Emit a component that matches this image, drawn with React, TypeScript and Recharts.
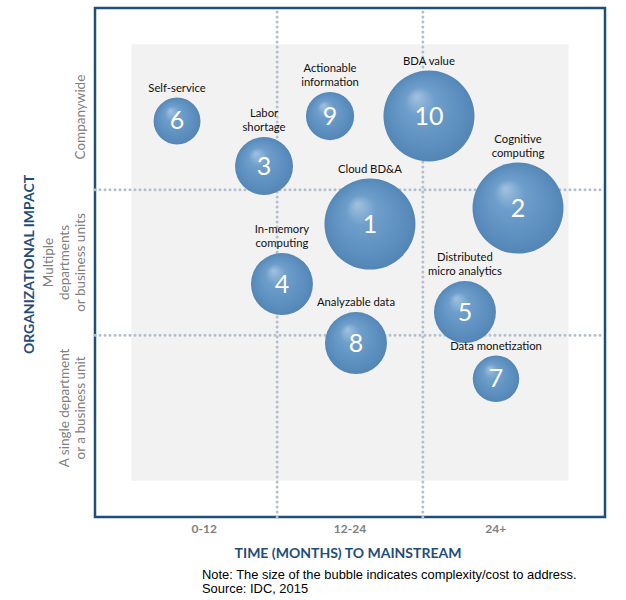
import React from "react"
import {
  ScatterChart,
  Scatter,
  XAxis,
  YAxis,
  ZAxis,
  ReferenceArea,
  ReferenceLine,
  Label,
} from "recharts"

// bubble number, name, time bucket position, impact position, complexity (bubble size)
const ids = [1, 2, 3, 4, 5, 6, 7, 8, 9, 10]
const names = [
  "Cloud BD&A",
  "Cognitive\ncomputing",
  "Labor\nshortage",
  "In-memory\ncomputing",
  "Distributed\nmicro analytics",
  "Self-service",
  "Data monetization",
  "Analyzable data",
  "Actionable\ninformation",
  "BDA value",
]
const timeX = [1.637, 2.653, 0.91, 1.033, 2.289, 0.313, 2.502, 1.541, 1.363, 2.042]
const impactY = [1.764, 1.874, 2.163, 1.352, 1.159, 2.473, 0.7, 0.946, 2.507, 2.507]
const complexity = [20.7, 20.7, 8.4, 9.6, 9.6, 5.5, 5.4, 9.6, 5.8, 20.7]

const xTicks = [0.5, 1.5, 2.5]
const xTickLabels = ["0-12", "12-24", "24+"]
const yTicks = [0.5, 1.5, 2.5]
const yTickLabels = [
  ["A single department", "or a business unit"],
  ["Multiple", "departments", "or business units"],
  ["Companywide"],
]

const data = ids.map((id, i) => ({
  id,
  name: names[i],
  x: timeX[i],
  y: impactY[i],
  z: complexity[i],
}))

const FONT = "Lato, 'Open Sans', sans-serif"
const BLUE = "#1f4e79"
const DOT = "#b3bfcc"

const Bubble = (props: any) => {
  const { cx, cy, width, payload } = props
  const r = width / 2
  const gid = `bub-${payload.id}`
  const lines: string[] = payload.name.split("\n")
  const base = cy - r - 6
  return (
    <g>
      <defs>
        <radialGradient id={gid} cx="50%" cy="50%" r="52%" fx="36%" fy="28%">
          <stop offset="0%" stopColor="#a2c2df" />
          <stop offset="32%" stopColor="#6e9ecb" />
          <stop offset="78%" stopColor="#5b8ebe" />
          <stop offset="100%" stopColor="#5283b3" />
        </radialGradient>
      </defs>
      <circle cx={cx} cy={cy} r={r} fill={`url(#${gid})`} />
      <text
        x={cx}
        y={cy + 8.5}
        textAnchor="middle"
        fill="#ffffff"
        fontSize={25}
        fontFamily={FONT}
      >
        {payload.id}
      </text>
      {lines.map((ln, k) => (
        <text
          key={k}
          x={cx}
          y={base - (lines.length - 1 - k) * 14}
          textAnchor="middle"
          fill="#111111"
          fontSize={11.3}
          fontFamily={FONT}
        >
          {ln}
        </text>
      ))}
    </g>
  )
}

const XTick = (props: any) => {
  const { x, y, payload } = props
  const label = xTickLabels[xTicks.indexOf(payload.value)]
  return (
    <text x={x} y={y + 16} textAnchor="middle" fill="#808080" fontWeight={700} fontSize={12} fontFamily={FONT}>
      {label}
    </text>
  )
}

const YTick = (props: any) => {
  const { x, y, payload } = props
  const lines = yTickLabels[yTicks.indexOf(payload.value)] || []
  const x0 = x - 10 - 16 * (lines.length - 1)
  return (
    <text
      transform={`rotate(-90 ${x0} ${y})`}
      x={x0}
      y={y}
      textAnchor="middle"
      fill="#808080"
      fontSize={13.5}
      fontFamily={FONT}
    >
      {lines.map((ln, k) => (
        <tspan key={k} x={x0} dy={k === 0 ? 0 : 16}>
          {ln}
        </tspan>
      ))}
    </text>
  )
}

export default function App() {
  return (
    <div style={{ position: "absolute", left: 0, top: 0, width: 626, height: 600, background: "#fff" }}>
      <ScatterChart width={626} height={600} margin={{ top: 8, right: 21, bottom: 33, left: 15 }}>
        <XAxis
          type="number"
          dataKey="x"
          domain={[-0.25, 3.25]}
          ticks={xTicks}
          allowDataOverflow
          axisLine={false}
          tickLine={false}
          tickSize={0}
          tickMargin={0}
          height={50}
          tick={<XTick />}
        >
          <Label
            content={(p: any) => {
              const vb = p.viewBox
              return (
                <g>
                  <text
                    x={vb.x + vb.width / 2 - 2}
                    y={vb.y + 41}
                    textAnchor="middle"
                    fill={BLUE}
                    fontWeight={700}
                    fontSize={14}
                    fontFamily={FONT}
                  >
                    TIME (MONTHS) TO MAINSTREAM
                  </text>
                  <text x={202} y={579} fill="#000" fontSize={12.9} fontFamily="'Liberation Sans', Arial, sans-serif">
                    Note: The size of the bubble indicates complexity/cost to address.
                  </text>
                  <text x={202} y={593} fill="#000" fontSize={12.9} fontFamily="'Liberation Sans', Arial, sans-serif">
                    Source: IDC, 2015
                  </text>
                </g>
              )
            }}
          />
        </XAxis>
        <YAxis
          type="number"
          dataKey="y"
          domain={[-0.25, 3.25]}
          ticks={yTicks}
          allowDataOverflow
          axisLine={false}
          tickLine={false}
          tickSize={0}
          tickMargin={0}
          width={80}
          tick={<YTick />}
        >
          <Label
            content={(p: any) => {
              const vb = p.viewBox
              const cx = vb.x + 19
              const cy = vb.y + vb.height / 2 + 2
              return (
                <text
                  transform={`rotate(-90 ${cx} ${cy})`}
                  x={cx}
                  y={cy}
                  textAnchor="middle"
                  fill={BLUE}
                  fontWeight={700}
                  fontSize={14}
                  fontFamily={FONT}
                >
                  ORGANIZATIONAL IMPACT
                </text>
              )
            }}
          />
        </YAxis>
        <ZAxis type="number" dataKey="z" domain={[0, 25]} range={[0, 2500 * Math.PI]} />
        <ReferenceArea x1={0} x2={3} y1={0} y2={3} fill="#f2f2f2" fillOpacity={1} stroke="none" />
        <ReferenceLine x={1} segment={[{ x: 1, y: 0 }, { x: 1, y: 3 }]} stroke={DOT} strokeWidth={3} strokeDasharray="0 5" strokeLinecap="round" />
        <ReferenceLine x={2} segment={[{ x: 2, y: 0 }, { x: 2, y: 3 }]} stroke={DOT} strokeWidth={3} strokeDasharray="0 5" strokeLinecap="round" />
        <ReferenceLine y={1} segment={[{ x: 0, y: 1 }, { x: 3, y: 1 }]} stroke={DOT} strokeWidth={3} strokeDasharray="0 5" strokeLinecap="round" />
        <ReferenceLine y={2} segment={[{ x: 0, y: 2 }, { x: 3, y: 2 }]} stroke={DOT} strokeWidth={3} strokeDasharray="0 5" strokeLinecap="round" />
        <ReferenceArea x1={-0.25} x2={3.25} y1={-0.25} y2={3.25} fill="none" stroke={BLUE} strokeWidth={2.5} />
        <Scatter data={data} shape={<Bubble />} isAnimationActive={false} />
      </ScatterChart>
    </div>
  )
}
